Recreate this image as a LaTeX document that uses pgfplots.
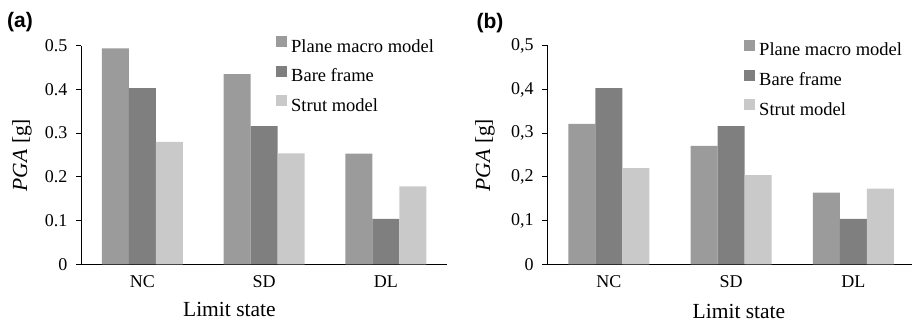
\documentclass[border=0pt]{standalone}
\usepackage{fontspec}
\setmainfont{Liberation Serif}
\newfontfamily\panelfont{Liberation Sans}
\usepackage{pgfplots}
\usepackage{pgfplotstable}
\pgfplotsset{compat=1.18}
\definecolor{cPlane}{RGB}{154,155,154}
\definecolor{cBare}{RGB}{127,127,127}
\definecolor{cStrut}{RGB}{200,201,200}

\pgfplotstableread{
x plane bare strut
0 0.494 0.403 0.280
1 0.435 0.316 0.254
2 0.253 0.104 0.178
}\dataA
\pgfplotstableread{
x plane bare strut
0 0.321 0.403 0.220
1 0.271 0.316 0.204
2 0.164 0.104 0.173
}\dataB

\pgfplotsset{
  common/.style={
    scale only axis,
    height=218.6pt,
    ymin=0, ymax=0.5,
    ybar=0pt, bar width=27pt,
    axis x line*=bottom, axis y line*=left,
    axis line style={line width=0.9pt, black},
    xtick={0,1,2}, xticklabels={NC,SD,DL},
    x tick style={draw=none},
    ytick={0,0.1,0.2,0.3,0.4,0.5},
    y tick style={line width=0.9pt, black},
    ytick align=outside, major tick length=5.5pt,
    tick label style={font=\fontsize{18}{20}\selectfont},
    xticklabel style={inner sep=0pt, anchor=north, yshift=-5.7pt},
    yticklabel style={inner sep=0pt, anchor=east},
    label style={font=\fontsize{21.5}{24}\selectfont},
    ylabel={\textit{PGA} [g]},
    legend style={draw=none, fill=none, inner sep=0pt, anchor=north west,
      font=\fontsize{18.5}{20}\selectfont,
      nodes={inner sep=0pt, text height=13pt, text depth=4pt, anchor=west},
      row sep=9.5pt,
      /tikz/every odd column/.append style={column sep=4pt}},
    legend cell align=left,
    legend image code/.code={\fill[##1, draw=none] (0pt,0.5pt) rectangle (11pt,11.5pt);},
  }
}

\begin{document}
\begin{tikzpicture}
\path[use as bounding box] (-81.5pt,-59.7pt) rectangle (832.5pt,264.3pt);

\begin{axis}[common,
  at={(0pt,0pt)}, anchor=south west,
  width=365.2pt, xmin=-0.5, xmax=2.5,
  yticklabels={0,0.1,0.2,0.3,0.4,0.5},
  yticklabel style={xshift=-8.5pt},
  xlabel={Limit state},
  xlabel style={at={([yshift=-44.7pt]axis description cs:0.405,0)}, anchor=center},
  ylabel style={at={([xshift=-59.5pt]axis description cs:0,0.5)}, anchor=center, rotate=0},
  legend style={at={(0.5326,1.045)}},
]
\addplot[fill=cPlane, draw=none] table[x=x, y=plane] {\dataA};
\addplot[fill=cBare, draw=none] table[x=x, y=bare] {\dataA};
\addplot[fill=cStrut, draw=none] table[x=x, y=strut] {\dataA};
\legend{Plane macro model, Bare frame, Strut model}
\end{axis}

\begin{axis}[common,
  at={(466.2pt,0pt)}, anchor=south west,
  width=364.3pt, xmin=-0.5, xmax=2.48,
  yticklabels={0,{0,1},{0,2},{0,3},{0,4},{0,5}},
  yticklabel style={xshift=-8.5pt},
  xlabel={Limit state},
  xlabel style={at={([yshift=-46.7pt]axis description cs:0.525,0)}, anchor=center},
  ylabel style={at={([xshift=-62.7pt]axis description cs:0,0.5)}, anchor=center, rotate=0},
  legend style={at={(0.5389,1.027)}},
]
\addplot[fill=cPlane, draw=none] table[x=x, y=plane] {\dataB};
\addplot[fill=cBare, draw=none] table[x=x, y=bare] {\dataB};
\addplot[fill=cStrut, draw=none] table[x=x, y=strut] {\dataB};
\legend{Plane macro model, Bare frame, Strut model}
\end{axis}

\node[font=\panelfont\bfseries\fontsize{21}{24}\selectfont, anchor=center] at (-61.5pt,241.8pt) {(a)};
\node[font=\panelfont\bfseries\fontsize{21}{24}\selectfont, anchor=center] at (408.5pt,241.3pt) {(b)};
\end{tikzpicture}
\end{document}
